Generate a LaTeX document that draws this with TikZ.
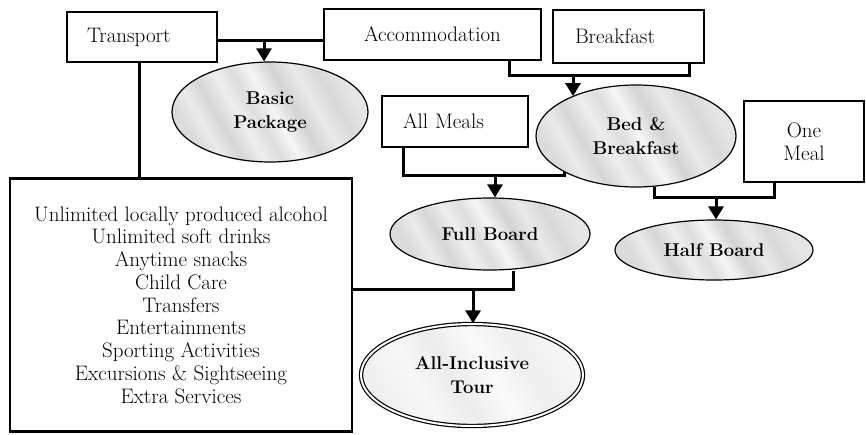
\documentclass[tikz,border=0pt]{standalone}
\usetikzlibrary{shapes.geometric,arrows.meta}
\pgfdeclarehorizontalshading{marble}{100bp}{color(0bp)=(gray!28); color(25bp)=(gray!28); color(30bp)=(gray!16); color(35bp)=(gray!32); color(41bp)=(gray!14); color(46bp)=(gray!26); color(51bp)=(gray!8); color(57bp)=(gray!34); color(63bp)=(gray!17); color(69bp)=(gray!30); color(75bp)=(gray!20); color(100bp)=(gray!20)}
\pgfdeclarehorizontalshading{marblelight}{100bp}{color(0bp)=(gray!12); color(25bp)=(gray!12); color(35bp)=(gray!6); color(45bp)=(gray!15); color(55bp)=(gray!4); color(65bp)=(gray!13); color(75bp)=(gray!7); color(100bp)=(gray!7)}
\begin{document}
\begin{tikzpicture}[x=1pt,y=-1pt,
	box/.style={draw,line width=2.6pt,inner sep=0pt,font=\fontsize{21}{22.75}\selectfont},
	plan/.style={draw,ellipse,line width=1.2pt,shade,shading=marble,shading angle=30,inner sep=0pt,align=center,font=\bfseries\fontsize{18.5}{24}\selectfont},
	link/.style={line width=3pt},
	arr/.style={line width=3pt,-{Triangle[length=13pt,width=15pt]}}]
			\useasboundingbox (0,0) rectangle (866,434);
			\node[box,minimum height=50pt,text width=110pt,inner xsep=20pt,align=left] (trans) at (142,37) {Transport};
			\node[box,minimum width=217pt,minimum height=51pt] (acc) at (432.5,34.5) {Accommodation};
			\node[box,minimum height=53pt,text width=107pt,inner xsep=22pt,align=left] (brk) at (628.5,36.5) {Breakfast};
			\node[box,minimum height=51pt,text width=104pt,inner xsep=21pt,align=left] (meals) at (455,121.5) {All Meals};
			\node[box,minimum width=120pt,minimum height=81pt,align=center] (onem) at (804,141.5) {One\\Meal};
			\node[box,minimum width=342pt,minimum height=253pt,align=center] (incl) at (181,305) {Unlimited locally produced alcohol\\Unlimited soft drinks\\Anytime snacks\\Child Care\\Transfers\\Entertainments\\Sporting Activities\\Excursions \& Sightseeing\\Extra Services};
			\node[plan,minimum width=196pt,minimum height=100pt] (basic) at (270,112) {Basic\\Package};
			\node[plan,minimum width=200pt,minimum height=102pt] (bb) at (636,136) {Bed \&\\Breakfast};
			\node[plan,minimum width=200pt,minimum height=72pt] (fb) at (490,234) {Full Board};
			\node[plan,minimum width=198pt,minimum height=60pt] (hb) at (714,250) {Half Board};
			\node[plan,double,double distance=2pt,shading=marblelight,minimum width=222pt,minimum height=102pt] (allinc) at (472,375) {All-Inclusive\\Tour};
			\coordinate (j1) at (264,40);
			\coordinate (j2) at (573,75);
			\coordinate (j3) at (495,175);
			\coordinate (j4) at (473,289);
			\coordinate (j5) at (716,197);
			\draw[link] (trans.east |- j1) -- (acc.west |- j1);
			\draw[arr] (j1) -- (j1 |- basic.north);
			\draw[link] ([xshift=-3pt]trans.south) -- ([xshift=-3pt]trans.south |- incl.north);
			\draw[link] ([xshift=76.5pt]acc.south) |- (j2) -| ([xshift=60.5pt]brk.south);
			\draw[arr] (j2) -- (j2 |- bb.148);
			\draw[link] ([xshift=-52pt]meals.south) |- (j3) -| (bb.south west);
			\draw[arr] (j3) -- (j3 |- fb.north);
			\draw[link] (bb.290) |- (j5) -| ([xshift=-30pt]onem.south);
			\draw[arr] (j5) -- (j5 |- hb.north);
			\draw[link] (incl.east |- j4) -| ([xshift=23pt]fb.south);
			\draw[arr] (j4) -- (j4 |- allinc.north);
\end{tikzpicture}
\end{document}
